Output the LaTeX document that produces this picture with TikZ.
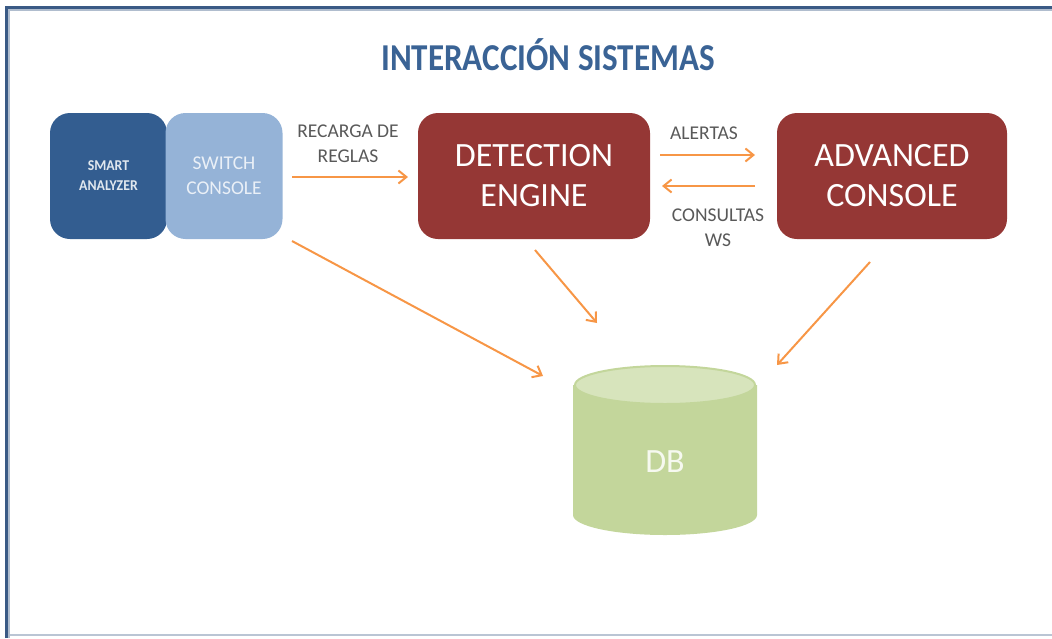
\documentclass[tikz,border=0pt]{standalone}
\usepackage{fontspec}
\setmainfont{Carlito}
\usetikzlibrary{arrows.meta,shapes.geometric}
\definecolor{frameblue}{HTML}{3A5A85}
\definecolor{titleblue}{HTML}{3A6395}
\definecolor{darkblue}{HTML}{335D90}
\definecolor{lightblue}{HTML}{95B3D7}
\definecolor{boxred}{HTML}{953735}
\definecolor{arroworange}{HTML}{F79646}
\definecolor{labelgray}{HTML}{595959}
\definecolor{dbbody}{HTML}{C3D69B}
\definecolor{dbtop}{HTML}{D7E4BC}
\tikzset{
  sysbox/.style={rounded corners=20pt, minimum width=#1, minimum height=126pt, inner sep=0pt, align=center},
  flow/.style={draw=arroworange, line width=2pt, -{Straight Barb[length=8pt,width=13pt]}},
  lbl/.style={text=labelgray, font=\fontsize{19.5}{25}\selectfont, align=center, inner sep=0pt},
}
\begin{document}
\begin{tikzpicture}[x=1pt,y=-1pt]
\useasboundingbox (0,0) rectangle (1052,638);
% frame
\draw[frameblue!35, line width=1.5pt] (6,635) -- (1052,635);
\draw[frameblue, line width=3pt] (6,638) -- (6,7) -- (1052,7);
\draw[frameblue!40, line width=1.5pt] (9,638) -- (9,10) -- (1052,10);
% title
\node[text=titleblue, font=\fontsize{38}{40}\selectfont\bfseries, inner sep=0pt] (title) at (548,55) {\scalebox{0.87}[1]{INTERACCIÓN SISTEMAS}};
% boxes
\node[sysbox=117pt, fill=darkblue, text=white!85!darkblue, font=\fontsize{15}{20}\selectfont\bfseries] (sa) at (108.5,176) {\scalebox{0.92}[1]{SMART}\\\scalebox{0.92}[1]{ANALYZER}};
\node[sysbox=117pt, fill=lightblue, text=white!80!lightblue, font=\fontsize{19.5}{25}\selectfont] (sc) at (224,176) {SWITCH\\CONSOLE};
\node[sysbox=232pt, fill=boxred, text=white, font=\fontsize{34}{40}\selectfont] (de) at (534,176) {DETECTION\\ENGINE};
\node[sysbox=230pt, fill=boxred, text=white, font=\fontsize{34}{40}\selectfont] (ac) at (892,176) {ADVANCED\\CONSOLE};
% DB
\fill[dbbody] (573,385) -- (573,515) arc[start angle=180,end angle=360,x radius=92pt,y radius=20pt] -- (757,385) -- cycle;
\fill[dbtop, draw=dbbody, line width=2pt] (665,385) ellipse[x radius=90pt, y radius=19pt];
\node[text=white!85!dbbody, font=\fontsize{34}{40}\selectfont, inner sep=0pt] (db) at (665,462) {DB};
% arrow endpoints
\coordinate (r1) at (292,177); \coordinate (r2) at (408,177);
\coordinate (a1) at (660,155); \coordinate (a2) at (755,155);
\coordinate (c1) at (755,186); \coordinate (c2) at (662,186);
\coordinate (s1) at (292,241); \coordinate (s2) at (543,376);
\coordinate (d1) at (535,250); \coordinate (d2) at (597,323);
\coordinate (v1) at (870,262); \coordinate (v2) at (777,365);
\draw[flow] (r1) -- (r2);
\draw[flow] (a1) -- (a2);
\draw[flow] (c1) -- (c2);
\draw[flow] (s1) -- (s2);
\draw[flow] (d1) -- (d2);
\draw[flow] (v1) -- (v2);
% labels
\node[lbl] (lr) at (348,144) {RECARGA DE\\REGLAS};
\node[lbl] (la) at (704,133) {ALERTAS};
\node[lbl] (lc) at (718,228) {CONSULTAS\\WS};
\end{tikzpicture}
\end{document}
